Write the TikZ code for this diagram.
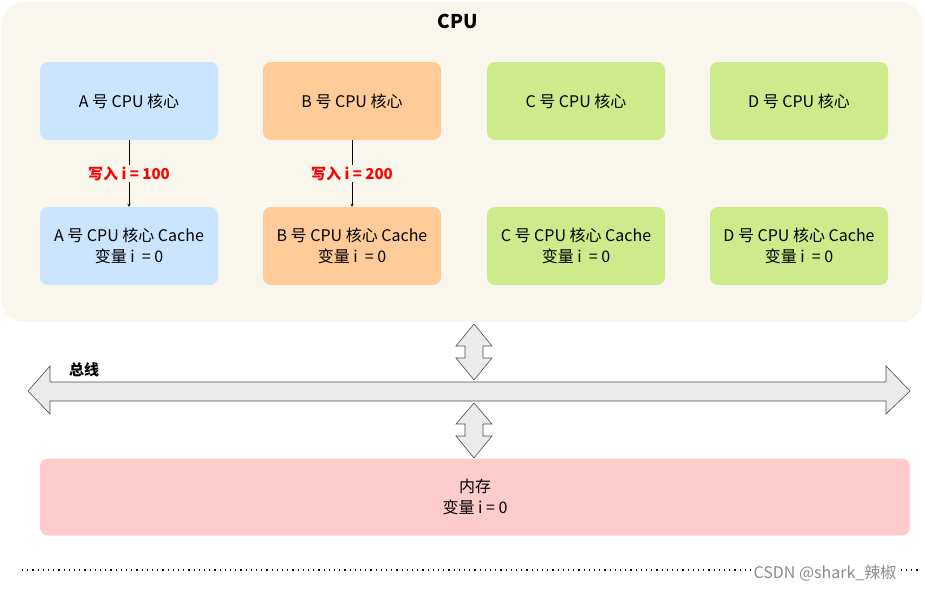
\documentclass[tikz,border=0pt]{standalone}
\usepackage{fontspec}
\setmainfont{Noto Sans CJK SC}
\begin{document}
\begin{tikzpicture}[x=1pt,y=-1pt,
 box/.style={draw=none,rounded corners=8pt,minimum width=178pt,minimum height=78pt,align=center,font=\fontsize{16}{21}\selectfont,inner sep=0},
 lbl/.style={text=red,font=\bfseries\fontsize{15}{18}\selectfont,fill=cpubg,inner sep=1pt},
 blk/.style={draw=black!70,fill=black!8,line width=0.6pt}]
\definecolor{cpubg}{HTML}{F9F7ED}
\definecolor{cblue}{HTML}{CCE5FF}
\definecolor{corange}{HTML}{FFCC99}
\definecolor{cgreen}{HTML}{CDEB8B}
\definecolor{cpink}{HTML}{FFCCCC}
\useasboundingbox (0,0) rectangle (925,592);
\fill[cpubg,rounded corners=22pt] (2,2) rectangle (922,322);
\node[font=\bfseries\fontsize{19}{22}\selectfont] (cpu) at (458,21) {CPU};
\node[box,fill=cblue] (a) at (129,101) {A 号 CPU 核心};
\node[box,fill=corange] (b) at (352,101) {B 号 CPU 核心};
\node[box,fill=cgreen] (c) at (576,101) {C 号 CPU 核心};
\node[box,fill=cgreen] (d) at (799,101) {D 号 CPU 核心};
\node[box,fill=cblue] (ac) at (129,246) {A 号 CPU 核心 Cache\\变量 i\ \ = 0};
\node[box,fill=corange] (bc) at (352,246) {B 号 CPU 核心 Cache\\变量 i\ \ = 0};
\node[box,fill=cgreen] (cc) at (576,246) {C 号 CPU 核心 Cache\\变量 i\ \ = 0};
\node[box,fill=cgreen] (dc) at (799,246) {D 号 CPU 核心 Cache\\变量 i\ \ = 0};
\draw[-stealth] (a) -- (ac) node[midway,lbl] {写入 i = 100};
\draw[-stealth] (b) -- (bc) node[midway,lbl] {写入 i = 200};
% bus
\draw[blk] (28,391) -- (50,366) -- (50,382) -- (886,382) -- (886,366) -- (910,391) -- (886,414) -- (886,401) -- (50,401) -- (50,414) -- cycle;
\node[font=\bfseries\fontsize{15}{18}\selectfont] (bus) at (84,370) {总线};
% vertical arrows
\draw[blk] (474,324) -- (492,346) -- (483,346) -- (483,358) -- (492,358) -- (474,380) -- (456,358) -- (465,358) -- (465,346) -- (456,346) -- cycle;
\draw[blk] (474,403) -- (492,424) -- (483,424) -- (483,436) -- (492,436) -- (474,458) -- (456,436) -- (465,436) -- (465,424) -- (456,424) -- cycle;
\node[box,fill=cpink,minimum width=870pt,minimum height=77pt] (mem) at (475,497) {内存\\变量 i = 0};
\draw[line width=1.2pt,dash pattern=on 1.2pt off 4pt] (22,570) -- (920,570);
\node[text=black!45,fill=white,inner sep=1pt,font=\fontsize{16}{18}\selectfont] (wm) at (825,573) {CSDN @shark\_辣椒};
\end{tikzpicture}
\end{document}
